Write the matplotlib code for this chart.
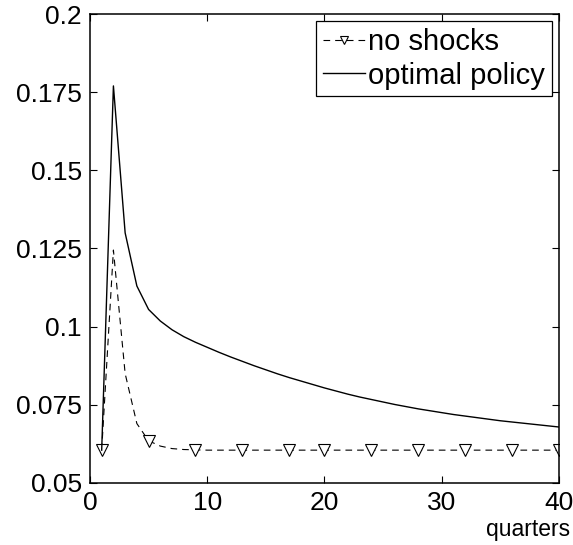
import matplotlib.pyplot as plt
import numpy as np

plt.rcParams['font.family'] = ['Liberation Sans', 'DejaVu Sans']

quarters = np.arange(1, 41)

no_shocks = [0.0605, 0.1245, 0.0850, 0.0690, 0.0635, 0.0618, 0.0610, 0.0607,
             0.0606, 0.0605, 0.0605, 0.0605, 0.0605, 0.0605, 0.0605, 0.0605,
             0.0605, 0.0605, 0.0605, 0.0605, 0.0605, 0.0605, 0.0605, 0.0605,
             0.0605, 0.0605, 0.0605, 0.0605, 0.0605, 0.0605, 0.0605, 0.0605,
             0.0605, 0.0605, 0.0605, 0.0605, 0.0605, 0.0605, 0.0605, 0.0605]

optimal_policy = [0.0605, 0.1770, 0.1300, 0.1130, 0.1055, 0.1018, 0.0990, 0.0968,
                  0.0950, 0.0934, 0.0918, 0.0903, 0.0889, 0.0875, 0.0862, 0.0849,
                  0.0837, 0.0826, 0.0815, 0.0804, 0.0794, 0.0784, 0.0775, 0.0767,
                  0.0759, 0.0751, 0.0744, 0.0737, 0.0731, 0.0725, 0.0719, 0.0714,
                  0.0709, 0.0704, 0.0699, 0.0695, 0.0691, 0.0687, 0.0683, 0.0679]

y_ticks = [0.05, 0.075, 0.1, 0.125, 0.15, 0.175, 0.2]
y_labels = ['0.05', '0.075', '0.1', '0.125', '0.15', '0.175', '0.2']
x_ticks = [0, 10, 20, 30, 40]

# markers spread evenly over the series, like round(linspace(1, 40, 11))
marker_idx = [int(round(v)) - 1 for v in np.linspace(1, 40, 11)]

fig = plt.figure(figsize=(5.73, 5.45), dpi=100)
ax = fig.add_axes([0.157, 0.1138, 0.8186, 0.8605])

ax.plot(quarters, no_shocks, color='black', lw=0.8, dashes=(6, 4.5),
        marker='v', markevery=marker_idx, markersize=8,
        markerfacecolor='white', markeredgecolor='black', markeredgewidth=0.8,
        label='no shocks')
ax.plot(quarters, optimal_policy, color='black', lw=1.0, label='optimal policy')

ax.set_xlim(0, 40)
ax.set_ylim(0.05, 0.2)
ax.set_xticks(x_ticks)
ax.set_yticks(y_ticks)
ax.set_yticklabels(y_labels)
ax.tick_params(direction='in', top=True, right=True, length=5, width=0.8,
               labelsize=19)
ax.tick_params(axis='x', pad=6)
ax.tick_params(axis='y', pad=6)
for s in ax.spines.values():
    s.set_linewidth(1.1)

ax.text(1.0235, -0.113, 'quarters', transform=ax.transAxes, ha='right',
        va='baseline', fontsize=16.5)

leg = ax.legend(loc='upper right', fontsize=21, frameon=True, fancybox=False,
                edgecolor='black', framealpha=1, borderaxespad=0.25,
                handlelength=1.45, handletextpad=0.12, labelspacing=0.2,
                borderpad=0.22, markerscale=0.7)
leg.get_frame().set_linewidth(0.9)

fig.savefig('out.png', dpi=100)
